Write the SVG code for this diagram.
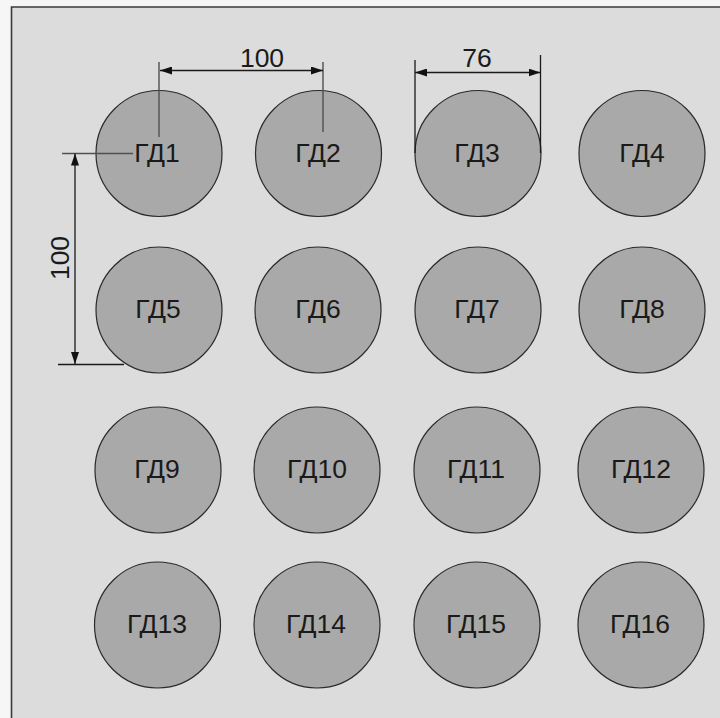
<svg xmlns="http://www.w3.org/2000/svg" width="720" height="718" viewBox="0 0 720 718">
<style>
.c{fill:#a9a9a9;stroke:#2a2a2a;stroke-width:1.2}
.t{font-family:"Liberation Sans",Arial,sans-serif;font-size:26.500px;fill:#1a1a1a;text-anchor:middle}
.d{stroke:#1a1a1a;stroke-width:1.3;fill:none}
.g{stroke:#505050;stroke-width:1.400;fill:none}
</style>
<defs>
<marker id="a" viewBox="0 0 12 8" refX="12" refY="4" markerWidth="12" markerHeight="8" markerUnits="userSpaceOnUse" orient="auto-start-reverse"><path d="M0 0L12 4L0 8Z" fill="#111"/></marker>
</defs>
<rect width="720" height="718" fill="#f6f6f6"/>
<path d="M12 718V7H720V718Z" fill="#dcdcdc"/>
<path d="M11.500 718V7H720" fill="none" stroke="#3a3a3a" stroke-width="1.600"/>
<g id="n1"><circle class="c" cx="159" cy="153.500" r="63"/><text class="t" x="157" y="162">ГД1</text></g>
<g id="n2"><circle class="c" cx="318.500" cy="153.500" r="63"/><text class="t" x="318" y="162">ГД2</text></g>
<g id="n3"><circle class="c" cx="478" cy="153.500" r="63"/><text class="t" x="477" y="162">ГД3</text></g>
<g id="n4"><circle class="c" cx="642" cy="153.500" r="63"/><text class="t" x="642" y="162">ГД4</text></g>
<g id="n5"><circle class="c" cx="159" cy="310" r="63"/><text class="t" x="158" y="318">ГД5</text></g>
<g id="n6"><circle class="c" cx="318" cy="310" r="63"/><text class="t" x="318" y="318">ГД6</text></g>
<g id="n7"><circle class="c" cx="478" cy="310" r="63"/><text class="t" x="477" y="318">ГД7</text></g>
<g id="n8"><circle class="c" cx="642" cy="310" r="63"/><text class="t" x="642" y="318">ГД8</text></g>
<g id="n9"><circle class="c" cx="158" cy="470" r="63"/><text class="t" x="157" y="478">ГД9</text></g>
<g id="n10"><circle class="c" cx="317" cy="470" r="63"/><text class="t" x="317" y="478">ГД10</text></g>
<g id="n11"><circle class="c" cx="477" cy="470" r="63"/><text class="t" x="476" y="478">ГД11</text></g>
<g id="n12"><circle class="c" cx="641" cy="470" r="63"/><text class="t" x="641" y="478">ГД12</text></g>
<g id="n13"><circle class="c" cx="157.500" cy="625" r="63"/><text class="t" x="157" y="633">ГД13</text></g>
<g id="n14"><circle class="c" cx="317" cy="625" r="63"/><text class="t" x="316" y="633">ГД14</text></g>
<g id="n15"><circle class="c" cx="477" cy="625" r="63"/><text class="t" x="476" y="633">ГД15</text></g>
<g id="n16"><circle class="c" cx="641" cy="625" r="63"/><text class="t" x="640" y="633">ГД16</text></g>
<g id="connectors">
<path class="g" d="M159 62V137M323 62V132M62 153.500H133"/>
<path class="d" d="M58 364.500H124M415 60V153M540.500 55V153"/>
<path class="d" d="M160 70.500H323" marker-start="url(#a)" marker-end="url(#a)"/>
<path class="d" d="M415 72.500H540.500" marker-start="url(#a)" marker-end="url(#a)"/>
<path class="d" d="M75 153.500V364" marker-start="url(#a)" marker-end="url(#a)"/>
</g>
<g id="labels">
<text class="t" x="262" y="67">100</text>
<text class="t" x="477" y="67">76</text>
<text class="t" transform="translate(69 258) rotate(-90)">100</text>
</g>
</svg>
